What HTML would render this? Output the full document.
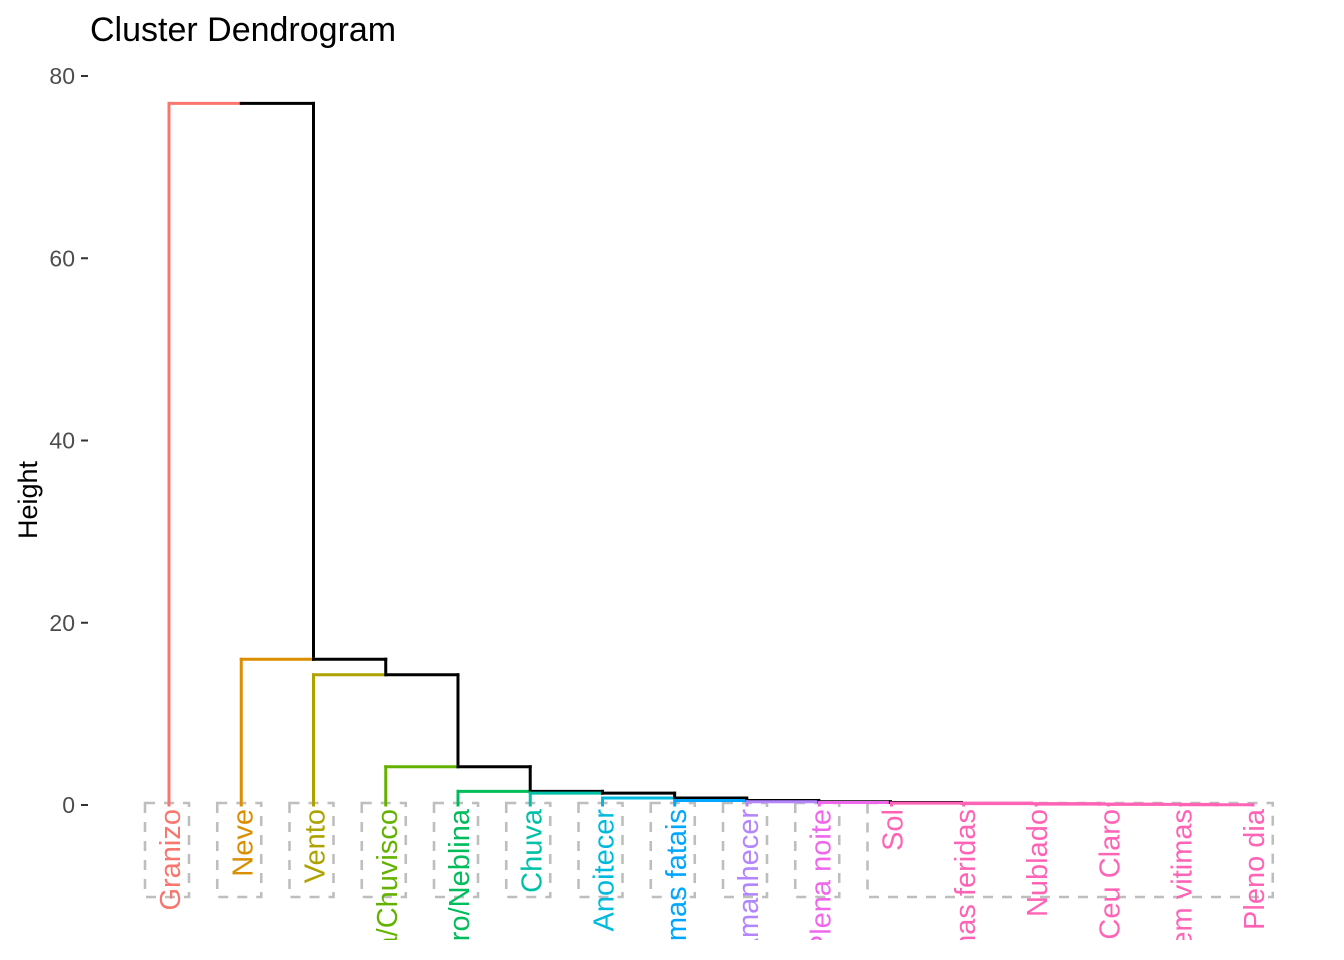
<!DOCTYPE html>
<html><head><meta charset="utf-8"><style>
html,body{margin:0;padding:0;background:#fff;width:1344px;height:960px;overflow:hidden;}
svg{display:block;font-family:"Liberation Sans",Arial,sans-serif;}
</style></head><body>
<svg id="chart" width="1344" height="960" viewBox="0 0 1344 960">
<text x="90" y="41" font-size="34" fill="#000">Cluster Dendrogram</text>
<text transform="translate(37,500) rotate(-90)" text-anchor="middle" font-size="27" fill="#000">Height</text>
<g id="yaxis"></g>
<defs><clipPath id="clip"><rect x="0" y="0" width="1344" height="940"/></clipPath></defs>
<g id="boxes"></g>
<g id="links"></g>
<g id="labels" clip-path="url(#clip)"></g>
</svg>
<script>
const leaves = ["Granizo","Neve","Vento","Garoa/Chuvisco","Nevoeiro/Neblina","Chuva","Anoitecer","Com vitimas fatais","Amanhecer","Plena noite","Sol","Com vitimas feridas","Nublado","Ceu Claro","Sem vitimas","Pleno dia"];
const leafCluster = [0,1,2,3,4,5,6,7,8,9,10,10,10,10,10,10];
const clusterColors = ["#F8766D","#DB8E00","#AEA200","#64B200","#00BD5C","#00C1A7","#00BADE","#00A6FF","#B385FF","#EF67EB","#FF63B6"];
// chain merge heights: node k joins leaf k with node k+1 (last joins last two leaves)
const mergeHeights = [77,16,14.3,4.2,1.5,1.3,0.77,0.5,0.36,0.28,0.2,0.15,0.1,0.07,0.03];
const yTicks = [0,20,40,60,80];

const svg = document.getElementById('chart');
const NS = "http://www.w3.org/2000/svg";
const x0 = 169, dx = 72.25;
function xs(i){ return x0 + i*dx; }
function ys(v){ return 805 - v*(729/80); }
function mk(tag, attrs, parent){ const e=document.createElementNS(NS,tag); for(const k in attrs) e.setAttribute(k,attrs[k]); parent.appendChild(e); return e; }

const ya = document.getElementById('yaxis');
yTicks.forEach(t=>{
  const g = mk('g',{},ya);
  
  
  mk('line',{x1:81,x2:88,y1:ys(t),y2:ys(t),stroke:'#333','stroke-width':2},g);
  const tx = mk('text',{x:75,y:ys(t)+8,'text-anchor':'end','font-size':23,fill:'#4D4D4D'},g);
  tx.textContent = t;
});

const n = leaves.length;
const nodeX = new Array(n-1);
nodeX[n-2] = (xs(n-2)+xs(n-1))/2;
for(let k=n-3;k>=0;k--) nodeX[k] = (xs(k)+nodeX[k+1])/2;

const links = document.getElementById('links');
function seg(x1,y1,x2,y2,color,name){
  const l = mk('line',{x1:x1,y1:y1,x2:x2,y2:y2,stroke:color,'stroke-width':3,'stroke-linecap':'square'},links);
  
  
}
for(let k=0;k<n-1;k++){
  const h = ys(mergeHeights[k]);
  const lc = clusterColors[leafCluster[k]];
  const rightIsLeaf = (k===n-2);
  const rightX = rightIsLeaf ? xs(n-1) : nodeX[k+1];
  const rightTop = rightIsLeaf ? ys(0) : ys(mergeHeights[k+1]);
  const sameCluster = leafCluster[k]===leafCluster[k+1] && leafCluster[k]===leafCluster[n-1];
  const rc = sameCluster ? lc : (rightIsLeaf ? clusterColors[leafCluster[n-1]] : '#000');
  seg(xs(k),ys(0),xs(k),h,lc,'leaf-branch-'+k);
  seg(xs(k),h,nodeX[k],h,lc,'link-left-'+k);
  seg(nodeX[k],h,rightX,h,rc,'link-right-'+k);
  seg(rightX,h,rightX,rightTop,rc,'link-down-'+k);
}
seg(xs(n-1),ys(0),xs(n-1),ys(mergeHeights[n-2]),clusterColors[leafCluster[n-1]],'leaf-branch-last');

const boxes = document.getElementById('boxes');
for(let c=0;c<clusterColors.length;c++){
  const idx = leafCluster.map((v,i)=>v===c?i:-1).filter(i=>i>=0);
  const a = xs(idx[0])-24, b = xs(idx[idx.length-1])+20;
  const r = mk('rect',{x:a,y:803,width:b-a,height:94,fill:'none',stroke:'#BEBEBE','stroke-width':2.6,'stroke-dasharray':'10 9'},boxes);
  
  
}

const lab = document.getElementById('labels');
leaves.forEach((s,i)=>{
  const t = mk('text',{transform:'translate('+(xs(i)+11)+',809) rotate(-90)','text-anchor':'end','font-size':29,fill:clusterColors[leafCluster[i]]},lab);
  
  
  t.textContent = s;
});
</script>
</body></html>
